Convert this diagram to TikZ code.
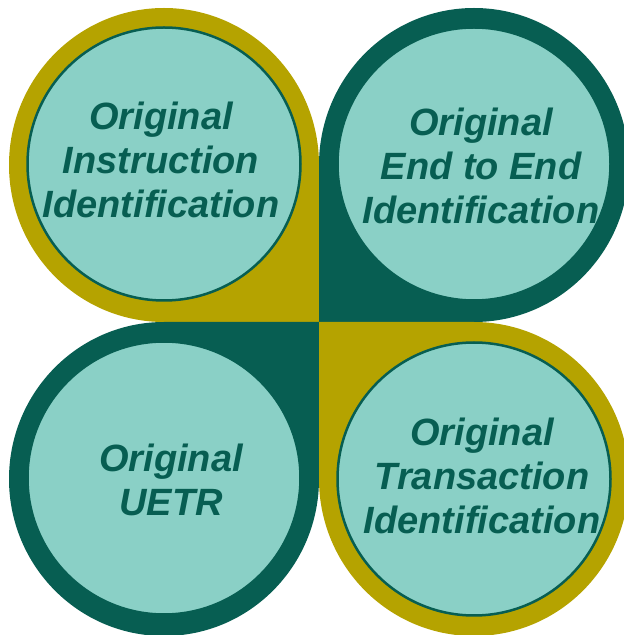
\documentclass[tikz,border=0pt]{standalone}
\usepackage{fontspec}
\setmainfont{Liberation Sans}
\usepackage{xcolor}
\usepackage{tikz}
\definecolor{olivex}{HTML}{B5A300}
\definecolor{deepx}{HTML}{075E52}
\definecolor{softx}{HTML}{8AD0C6}
\tikzset{
  petal/.style={x radius=155,y radius=157},
  disc/.style={circle,fill=softx,draw=deepx,line width=2.5pt,minimum size=273pt,inner sep=0pt},
  lbl/.style={align=center,text=deepx,inner sep=0pt,font=\fontsize{38}{44}\selectfont\bfseries\itshape}
}
\begin{document}
\begin{tikzpicture}[x=1pt,y=1pt]
\useasboundingbox (0,0) rectangle (624,635);
% petals, square corner toward the middle
\fill[olivex,petal] (319,470) -- (319,313) -- (164,313) arc[start angle=270,end angle=0] -- cycle;
\fill[deepx,petal] (319,470) -- (319,313) -- (474,313) arc[start angle=270,end angle=540] -- cycle;
\fill[deepx,petal] (164,313) -- (319,313) -- (319,156) arc[start angle=0,end angle=-270] -- cycle;
\fill[olivex,petal] (474,313) -- (319,313) -- (319,156) arc[start angle=180,end angle=450] -- cycle;
% inner discs
\node[disc] (instr) at (164,471) {};
\node[disc] (e2e) at (474,471) {};
\node[disc] (uetr) at (164,157) {};
\node[disc] (txn) at (474,156) {};
\node[lbl] (instrTxt) at ([shift={(-3,4)}]instr.center) {Original\\Instruction\\Identification};
\node[lbl] (e2eTxt) at ([shift={(7,-2)}]e2e.center) {Original\\End to End\\Identification};
\node[lbl] (uetrTxt) at ([shift={(7,-2)}]uetr.center) {Original\\UETR};
\node[lbl] (txnTxt) at ([shift={(8,3)}]txn.center) {Original\\Transaction\\Identification};
\end{tikzpicture}
\end{document}
